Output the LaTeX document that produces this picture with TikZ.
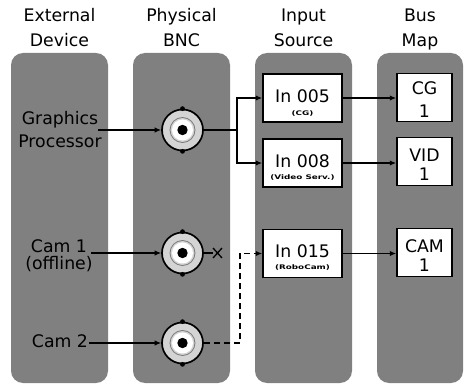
\documentclass[tikz,border=0pt]{standalone}
\usepackage{fontspec}
\setmainfont{DejaVu Sans}
\usetikzlibrary{arrows.meta}
\definecolor{panel}{RGB}{128,128,128}
\definecolor{ring}{RGB}{212,212,212}
\definecolor{ringline}{RGB}{120,120,120}
\begin{document}
\begin{tikzpicture}[x=1pt,y=-1pt,
  panelbox/.style={fill=panel, rounded corners=12pt},
  head/.style={font=\fontsize{17.3}{20}\selectfont, anchor=base, inner sep=0pt},
  sub/.style={font=\fontsize{6.3}{7}\selectfont\bfseries, anchor=base, inner sep=0pt},
  srcbox/.style={draw=black, line width=1.5pt, fill=white, minimum width=79pt, minimum height=48pt, inner sep=0pt},
  busbox/.style={draw=black, line width=1.5pt, fill=white, minimum width=55pt, minimum height=48pt, inner sep=0pt},
  bnc/.style={circle, draw=black, line width=1.7pt, fill=ring, minimum size=41pt, inner sep=0pt,
    path picture={
      \draw[ringline, line width=0.8pt] (path picture bounding box.center) circle[radius=12.5pt];
      \fill[white] (path picture bounding box.center) circle[radius=10.5pt];
      \fill[black] (path picture bounding box.center) circle[radius=5.2pt];
    }},
  nub/.style={fill=black},
  wire/.style={line width=1.3pt},
  conn/.style={line width=1.3pt, -{Latex[length=6.5pt,width=5.5pt]}},
  dconn/.style={line width=1.3pt, dash pattern=on 6pt off 4pt, -{Latex[length=6.5pt,width=5.5pt]}},
]
\useasboundingbox (0,0) rectangle (464,385);

% panels
\fill[panelbox] (11,53) rectangle (108,383);
\fill[panelbox] (133,53) rectangle (230,383);
\fill[panelbox] (255,53) rectangle (352,383);
\fill[panelbox] (377,53) rectangle (463,383);

% headers
\node[head] (h1a) at (59.5,22) {External};
\node[head] (h1b) at (59.5,47) {Device};
\node[head] (h2a) at (181.5,22) {Physical};
\node[head] (h2b) at (181.5,47) {BNC};
\node[head] (h3a) at (303.5,22) {Input};
\node[head] (h3b) at (303.5,47) {Source};
\node[head] (h4a) at (420,22) {Bus};
\node[head] (h4b) at (420,47) {Map};

% external devices
\node[head] (gfx) at (60,125) {Graphics};
\node[head] (proc) at (60,148) {Processor};
\node[head] (cam1) at (59,253) {Cam 1};
\node[head] (off) at (59,270) {(offline)};
\node[head] (cam2) at (60,348) {Cam 2};

% BNC connectors
\node[bnc] (bnc1) at (182.5,130) {};
\node[bnc] (bnc2) at (182.5,253) {};
\node[bnc] (bnc3) at (182.5,343) {};
\foreach \b in {bnc1,bnc2,bnc3}{
  \fill[nub] (\b.north) circle[radius=2.4pt];
  \fill[nub] (\b.south) circle[radius=2.4pt];
}

% input sources
\node[srcbox] (in5) at (302.5,98) {};
\node[head] (in5t) at (302.5,103) {In 005};
\node[sub] (in5s) at (302.5,115.5) {\scalebox{1.4}[1]{(CG)}};
\node[srcbox] (in8) at (302.5,163) {};
\node[head] (in8t) at (302.5,168) {In 008};
\node[sub] (in8s) at (302.5,179.5) {\scalebox{1.4}[1]{(Video Serv.)}};
\node[srcbox] (in15) at (302.5,253.5) {};
\node[head] (in15t) at (302.5,258) {In 015};
\node[sub] (in15s) at (302.5,270) {\scalebox{1.4}[1]{(RoboCam)}};

% bus map
\node[busbox] (cg) at (424.5,97.5) {};
\node[head] (cgt) at (424.5,95) {CG};
\node[head] (cgn) at (424.5,118) {1};
\node[busbox] (vid) at (424.5,161.5) {};
\node[head] (vidt) at (424.5,162) {VID};
\node[head] (vidn) at (424.5,180.5) {1};
\node[busbox] (cam) at (424.5,252.5) {};
\node[head] (camt) at (424.5,253) {CAM};
\node[head] (camn) at (424.5,272) {1};

% device to BNC
\draw[conn] (gfx.east |- bnc1.west) -- (bnc1.west);
\draw[conn] ([xshift=4pt]cam1.east |- bnc2.west) -- (bnc2.west);
\draw[conn] ([xshift=1pt]cam2.east |- bnc3.west) -- (bnc3.west);

% BNC to sources
\coordinate (split) at (237,130);
\draw[wire] (bnc1.east) -- (split);
\draw[conn] (split) |- (in5.west);
\draw[conn] (split) |- (in8.west);

\coordinate (xm) at (213,253);
\draw[wire] (bnc2.east) -- (xm);
\draw[wire] (213,248) -- (222,258) (213,258) -- (222,248);

\coordinate (dturn) at (240,343);
\draw[dconn] (bnc3.east) -- (dturn) |- (in15.west);

% sources to bus
\draw[conn] (in5.east) -- (in5.east -| cg.west);
\draw[conn] (in8.east) -- (in8.east -| vid.west);
\draw[conn] (in15.east) -- (in15.east -| cam.west);
\end{tikzpicture}
\end{document}
